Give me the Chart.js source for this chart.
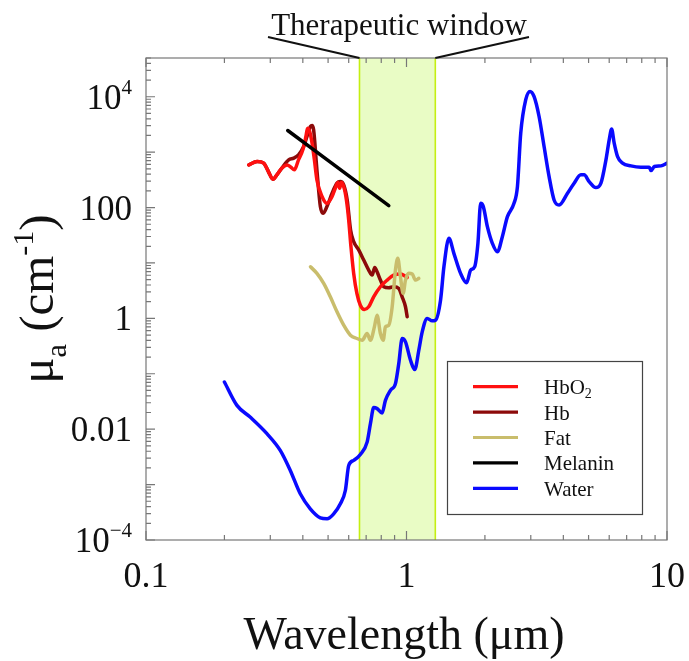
<!DOCTYPE html>
<html>
<head>
<meta charset="utf-8">
<script src="https://cdn.jsdelivr.net/npm/chart.js@4.4.1/dist/chart.umd.min.js"></script>
<style>
  html, body { margin: 0; padding: 0; background: #fff; }
  #wrap { width: 689px; height: 661px; }
</style>
</head>
<body>
<div id="wrap"><canvas id="myChart" width="689" height="661"></canvas></div>
<script>
// ======================= DONNÉES =======================

const hbo2Wavelength = [0.248, 0.267, 0.283, 0.295, 0.307, 0.318, 0.332, 0.348, 0.360, 0.371, 0.385, 0.400, 0.411, 0.417, 0.425, 0.434, 0.443, 0.453, 0.474, 0.495, 0.518, 0.533, 0.545, 0.554, 0.562, 0.574, 0.588, 0.600, 0.612, 0.627, 0.645, 0.665, 0.689, 0.716, 0.748, 0.794, 0.843, 0.893, 0.948, 1.006];
const hbo2Absorption = [589, 677, 632, 447, 324, 389, 513, 589, 535, 479, 726, 1101, 1917, 2712, 2360, 1452, 726, 316, 158, 119, 158, 223, 282, 223, 282, 239, 137, 59.7, 19.7, 6.47, 2.82, 1.73, 1.45, 1.62, 2.45, 3.72, 4.91, 6.04, 6.3, 5.48];

const hbWavelength = [0.248, 0.267, 0.283, 0.295, 0.307, 0.318, 0.332, 0.353, 0.369, 0.385, 0.403, 0.415, 0.428, 0.434, 0.440, 0.453, 0.467, 0.478, 0.495, 0.518, 0.541, 0.557, 0.574, 0.592, 0.610, 0.627, 0.656, 0.685, 0.716, 0.738, 0.755, 0.771, 0.794, 0.818, 0.855, 0.893, 0.934, 0.962, 0.991, 1.006];
const hbAbsorption = [589, 677, 632, 447, 324, 389, 513, 726, 778, 894, 1265, 1917, 2908, 3031, 2530, 479, 104, 78.7, 104, 181, 275, 294, 256, 137, 39.4, 24.2, 17.1, 11.3, 7.44, 6.04, 8.3, 6.94, 4.91, 3.72, 3.56, 3.72, 3.47, 2.45, 1.62, 1.07];

const fatWavelength = [0.428, 0.453, 0.481, 0.510, 0.541, 0.574, 0.609, 0.646, 0.676, 0.706, 0.727, 0.753, 0.771, 0.794, 0.814, 0.830, 0.855, 0.881, 0.907, 0.926, 0.948, 0.971, 0.991, 1.02, 1.052, 1.083, 1.115];
const fatAbsorption = [8.53, 6.49, 4.28, 2.45, 1.31, 0.753, 0.497, 0.433, 0.403, 0.533, 0.403, 0.702, 1.14, 0.533, 0.403, 0.702, 0.753, 1.61, 7.44, 12.1, 5.62, 2.82, 4.91, 6.49, 6.3, 4.91, 5.26];

const melaninWavelength = [0.35, 0.855];
const melaninAbsorption = [2460, 108];

const waterWavelength = [0.2, 0.2234, 0.251, 0.2912, 0.3276, 0.358, 0.391, 0.4272, 0.467, 0.4955, 0.5254, 0.5573, 0.5824, 0.6, 0.627, 0.665, 0.706, 0.727, 0.7487, 0.7713, 0.806, 0.830, 0.868, 0.907, 0.934, 0.9627, 0.991, 1.036, 1.076, 1.115, 1.149, 1.201, 1.255, 1.292, 1.351, 1.392, 1.455, 1.52, 1.613, 1.701, 1.763, 1.826, 1.880, 1.926, 1.972, 2.044, 2.136, 2.233, 2.333, 2.44, 2.586, 2.666, 2.745, 2.869, 2.98, 3.087, 3.228, 3.374, 3.527, 3.686, 3.853, 4.15, 4.40, 4.67, 4.807, 5.025, 5.333, 5.576, 5.83, 6.0, 6.13, 6.27, 6.46, 6.75, 7.27, 7.94, 8.55, 8.68, 8.94, 9.48, 10.0];
const waterAbsorption = [0.0711, 0.0269, 0.01656, 0.0083, 0.00414, 0.0018, 6.82e-4, 3.65e-4, 2.51e-4, 2.41e-4, 2.96e-4, 4.5e-4, 7.82e-4, 0.00221, 0.00273, 0.0035, 0.00585, 0.01256, 0.0245, 0.0235, 0.01955, 0.0332, 0.0503, 0.0665, 0.1528, 0.4325, 0.376, 0.1754, 0.119, 0.266, 0.570, 0.995, 0.901, 0.927, 2.13, 8.53, 27.9, 14.9, 6.48, 4.38, 7.44, 8.53, 22.6, 119, 104, 45.2, 22.6, 15.9, 29.8, 68.5, 119, 239, 2203, 8830, 12470, 10120, 4400, 1262, 362, 137, 111, 181, 275, 389, 389, 294, 229, 275, 726, 1669, 2606, 1455, 832, 632, 565, 536, 536, 465, 550, 565, 632];

// fenêtre thérapeutique (µm)
const windowStart = 0.66;
const windowEnd = 1.29;

// graduations
const xTickValues = [0.1, 1, 10];
const xTickLabels = ['0.1', '1', '10'];
const yTickValues = [1e4, 100, 1, 0.01, 1e-4];
const yTickBase = ['10', '100', '1', '0.01', '10'];
const yTickSup = ['4', '', '', '', '\u22124'];

const legendNames = ['HbO', 'Hb', 'Fat', 'Melanin', 'Water'];
const legendSubs = ['2', '', '', '', ''];

const SERIF = '"Liberation Serif", "Times New Roman", serif';

function toPoints(xs, ys) {
    return xs.map((x, i) => ({ x: x, y: ys[i] }));
}

function makeDataset(label, xs, ys, color, order) {
    return {
        label: label,
        data: toPoints(xs, ys),
        borderColor: color,
        backgroundColor: color,
        borderWidth: 3.5,
        pointRadius: 0,
        fill: false,
        cubicInterpolationMode: 'monotone',
        borderJoinStyle: 'round',
        borderCapStyle: 'round',
        order: order
    };
}

// ======================= PLUGINS DE DESSIN =======================

const windowBand = {
    id: 'windowBand',
    beforeDatasetsDraw(chart) {
        const { ctx, chartArea: a, scales: { x } } = chart;
        const x0 = x.getPixelForValue(windowStart);
        const x1 = x.getPixelForValue(windowEnd);
        ctx.save();
        ctx.fillStyle = '#e9fcc5';
        ctx.fillRect(x0, a.top, x1 - x0, a.bottom - a.top);
        ctx.strokeStyle = '#c4ef12';
        ctx.lineWidth = 1.6;
        ctx.beginPath();
        ctx.moveTo(x0, a.top); ctx.lineTo(x0, a.bottom);
        ctx.moveTo(x1, a.top); ctx.lineTo(x1, a.bottom);
        ctx.stroke();
        ctx.restore();
    }
};

function drawSupText(ctx, base, sup, rightX, baseY, bigSize, smallSize, raise) {
    ctx.font = bigSize + 'px ' + SERIF;
    const wb = ctx.measureText(base).width;
    ctx.font = smallSize + 'px ' + SERIF;
    const ws = sup ? ctx.measureText(sup).width : 0;
    ctx.textAlign = 'left';
    ctx.textBaseline = 'alphabetic';
    ctx.font = bigSize + 'px ' + SERIF;
    ctx.fillText(base, rightX - wb - ws, baseY);
    if (sup) {
        ctx.font = smallSize + 'px ' + SERIF;
        ctx.fillText(sup, rightX - ws, baseY - raise);
    }
}

const frameAndLabels = {
    id: 'frameAndLabels',
    afterDatasetsDraw(chart) {
        const { ctx, chartArea: a, scales: { x, y } } = chart;
        ctx.save();

        // cadre
        ctx.strokeStyle = '#777';
        ctx.lineWidth = 1.2;
        ctx.strokeRect(a.left, a.top, a.right - a.left, a.bottom - a.top);

        // graduations vers l'intérieur
        ctx.beginPath();
        for (let d = -1; d <= 1; d++) {
            for (let m = 1; m <= 9; m++) {
                const v = m * Math.pow(10, d);
                if (v < 0.1 || v > 10) continue;
                const px = x.getPixelForValue(v);
                const len = m === 1 ? 9 : 5;
                ctx.moveTo(px, a.bottom); ctx.lineTo(px, a.bottom - len);
                ctx.moveTo(px, a.top); ctx.lineTo(px, a.top + len);
            }
        }
        for (let d = -4; d <= 4; d++) {
            for (let m = 1; m <= 9; m++) {
                const v = m * Math.pow(10, d);
                if (v < 1e-4 || v > 5e4) continue;
                const py = y.getPixelForValue(v);
                const len = m === 1 ? 9 : 5;
                ctx.moveTo(a.left, py); ctx.lineTo(a.left + len, py);
            }
        }
        ctx.stroke();

        // étiquettes
        ctx.fillStyle = '#111';
        ctx.font = '36px ' + SERIF;
        ctx.textAlign = 'center';
        ctx.textBaseline = 'alphabetic';
        xTickValues.forEach((v, i) => {
            ctx.fillText(xTickLabels[i], x.getPixelForValue(v), 587);
        });
        yTickValues.forEach((v, i) => {
            const py = y.getPixelForValue(v);
            drawSupText(ctx, yTickBase[i], yTickSup[i], 132, py + 12, 35, 21, 15);
        });

        // titres des axes
        ctx.font = '46px ' + SERIF;
        ctx.textAlign = 'center';
        ctx.fillText('Wavelength (\u03bcm)', 404, 649);

        ctx.save();
        ctx.translate(53, (a.top + a.bottom) / 2);
        ctx.rotate(-Math.PI / 2);
        const parts = [
            { t: '\u03bc', s: 49, dy: 0 },
            { t: 'a', s: 30, dy: 13 },
            { t: ' (cm', s: 49, dy: 0 },
            { t: '-1', s: 30, dy: -20 },
            { t: ')', s: 49, dy: 0 }
        ];
        let total = 0;
        parts.forEach(p => { ctx.font = p.s + 'px ' + SERIF; p.w = ctx.measureText(p.t).width; total += p.w; });
        let cx = -total / 2;
        ctx.textAlign = 'left';
        parts.forEach(p => {
            ctx.font = p.s + 'px ' + SERIF;
            ctx.fillText(p.t, cx, p.dy);
            cx += p.w;
        });
        ctx.restore();

        // fenêtre thérapeutique : texte et traits
        const x0 = x.getPixelForValue(windowStart);
        const x1 = x.getPixelForValue(windowEnd);
        ctx.font = '31px ' + SERIF;
        ctx.textAlign = 'center';
        ctx.fillStyle = '#111';
        ctx.fillText('Therapeutic window', 399, 35);
        ctx.strokeStyle = '#111';
        ctx.lineWidth = 2;
        ctx.beginPath();
        ctx.moveTo(268, 37); ctx.lineTo(x0, a.top);
        ctx.moveTo(529, 37); ctx.lineTo(x1, a.top);
        ctx.stroke();

        // légende
        ctx.fillStyle = '#fff';
        ctx.fillRect(447.5, 361.5, 195, 153);
        ctx.strokeStyle = '#444';
        ctx.lineWidth = 1.2;
        ctx.strokeRect(447.5, 361.5, 195, 153);
        chart.data.datasets.forEach((ds, i) => {
            const ry = 386.7 + i * 25.4;
            ctx.strokeStyle = ds.borderColor;
            ctx.lineWidth = 3.2;
            ctx.beginPath();
            ctx.moveTo(473, ry); ctx.lineTo(518, ry);
            ctx.stroke();
            ctx.fillStyle = '#111';
            ctx.textAlign = 'left';
            ctx.font = '21px ' + SERIF;
            ctx.fillText(legendNames[i], 544, ry + 7.5);
            if (legendSubs[i]) {
                const w = ctx.measureText(legendNames[i]).width;
                ctx.font = '14px ' + SERIF;
                ctx.fillText(legendSubs[i], 544 + w, ry + 11);
            }
        });

        ctx.restore();
    }
};

// ======================= GRAPHIQUE =======================

const ctx = document.getElementById('myChart').getContext('2d');
new Chart(ctx, {
    type: 'line',
    data: {
        datasets: [
            makeDataset('HbO2', hbo2Wavelength, hbo2Absorption, '#ff1010', 2),
            makeDataset('Hb', hbWavelength, hbAbsorption, '#8c0a0a', 3),
            makeDataset('Fat', fatWavelength, fatAbsorption, '#c9bd6c', 1),
            makeDataset('Melanin', melaninWavelength, melaninAbsorption, '#000000', 0),
            makeDataset('Water', waterWavelength, waterAbsorption, '#0a0aff', 4)
        ]
    },
    options: {
        responsive: false,
        animation: false,
        devicePixelRatio: 1,
        layout: { padding: { left: 146, right: 22, top: 58, bottom: 121 } },
        scales: {
            x: { type: 'logarithmic', min: 0.1, max: 10, display: false },
            y: { type: 'logarithmic', min: 1e-4, max: 5e4, display: false }
        },
        plugins: {
            legend: { display: false },
            tooltip: { enabled: false }
        }
    },
    plugins: [windowBand, frameAndLabels]
});
</script>
</body>
</html>
